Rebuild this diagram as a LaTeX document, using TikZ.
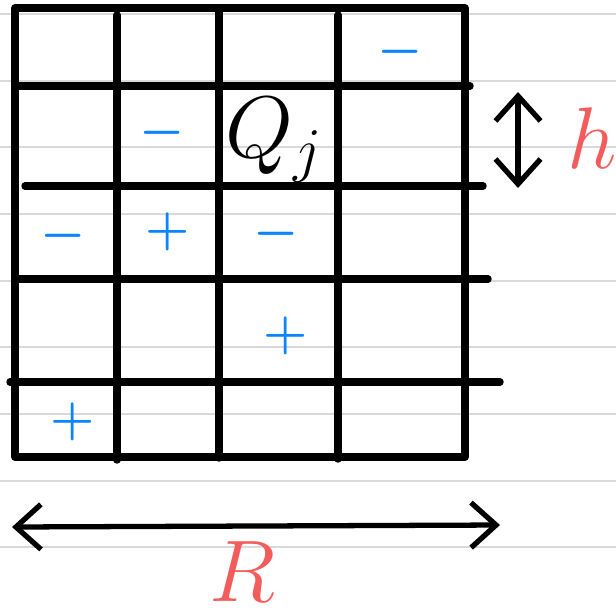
\documentclass[tikz,border=0pt]{standalone}
\usepackage{amsmath}
\usepackage{tikz}
\usetikzlibrary{arrows.meta}

\definecolor{penblue}{HTML}{0A84FF}
\definecolor{penred}{HTML}{F45B5B}
\definecolor{ruled}{HTML}{D9D9D9}

\begin{document}
\begin{tikzpicture}[x=0.01cm, y=-0.01cm,
    gridline/.style={line width=2.1pt, line cap=round, line join=round},
    ruleline/.style={draw=ruled, line width=0.6pt},
    sign/.style={text=penblue, font=\Large\boldmath, inner sep=0pt},
    dimarrow/.style={line width=1.5pt, line cap=round,
      {Straight Barb[length=0.25cm, width=0.45cm]}-{Straight Barb[length=0.25cm, width=0.45cm]}},
    dimlabel/.style={text=penred, inner sep=0pt, font=\fontsize{24}{28}\selectfont}]
    \useasboundingbox (0,0) rectangle (616,615);

    % paper lines
    \draw[ruleline] (0,14) -- (616,14) (0,81) -- (616,81) (0,147) -- (616,147)
      (0,214) -- (616,214) (0,281) -- (616,281) (0,347) -- (616,347)
      (0,414) -- (616,414) (0,481) -- (616,481) (0,547) -- (616,547);

    % the grid
    \draw[gridline] (15,8) rectangle (465,457);
    \draw[gridline] (18,86) -- (470,86);
    \draw[gridline] (25,186) -- (483,186);
    \draw[gridline] (15,279) -- (488,279);
    \draw[gridline] (10,382) -- (500,382);
    \draw[gridline] (117,15) -- (117,460);
    \draw[gridline] (219,8) -- (219,458);
    \draw[gridline] (338,15) -- (338,459);

    % charges
    \node[sign] (m03) at (400,52) {$-$};
    \node[sign] (m11) at (162,133) {$-$};
    \node[sign] (m20) at (63,236) {$-$};
    \node[sign] (p21) at (168,232) {$+$};
    \node[sign] (m22) at (276,234) {$-$};
    \node[sign] (p32) at (286,336) {$+$};
    \node[sign] (p40) at (73,422) {$+$};

    \node[inner sep=0pt, font=\fontsize{26}{30}\selectfont] (qj) at (274,140) {$Q_j$};

    % cell size and range
    \coordinate (htop) at (518,92);
    \coordinate (hbot) at (518,188);
    \draw[dimarrow] (htop) -- (hbot);
    \node[dimlabel] (hlab) at (592,138) {$h$};

    \coordinate (rleft) at (12,527);
    \coordinate (rright) at (500,525);
    \draw[dimarrow] (rleft) -- (rright);
    \node[dimlabel] (rlab) at (242,572) {$R$};
  \end{tikzpicture}
\end{document}
